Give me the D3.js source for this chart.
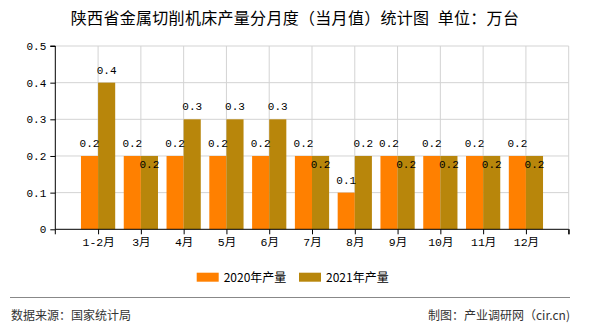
<!DOCTYPE html>
<html><head><meta charset="utf-8">
<script src="https://cdn.jsdelivr.net/npm/d3@7"></script>
<style>
html,body{margin:0;padding:0;background:#fff;}
svg{display:block;}
</style></head>
<body>
<script>
const categories = ["1-2月","3月","4月","5月","6月","7月","8月","9月","10月","11月","12月"];
const values2020 = [0.2,0.2,0.2,0.2,0.2,0.2,0.1,0.2,0.2,0.2,0.2];
const values2021 = [0.4,0.2,0.3,0.3,0.3,0.2,0.2,0.2,0.2,0.2,0.2];
const seriesNames = ["2020年产量","2021年产量"];
const seriesColors = ["#FF8000","#B8860B"];
const yTicks = [0,0.1,0.2,0.3,0.4,0.5];
const titleText = "陕西省金属切削机床产量分月度（当月值）统计图\u2002单位：万台";
const sourceText = "数据来源：国家统计局";
const creditText = "制图：产业调研网（cir.cn)";

const W = 590, H = 330;
const pLeft = 55.3, pRight = 568.7, pTop = 46, pBottom = 229.3;
const mono = "'Liberation Mono','DejaVu Sans Mono',monospace";
const cjk = "'Noto Sans CJK SC','Noto Sans',sans-serif";

const svg = d3.select("body").append("svg").attr("width", W).attr("height", H);

// x: point scale with padding slots at both ends (one empty slot at the right)
const x = d3.scalePoint().domain(["__start"].concat(categories, ["__end"])).range([pLeft, pRight]);
const step = x.step();
const y = d3.scaleLinear().domain([0, 0.5]).range([pBottom, pTop]);

// gridlines
const g = svg.append("g");
g.selectAll("line.hg").data(yTicks.filter(d => d > 0)).join("line")
  .attr("x1", pLeft).attr("x2", pRight)
  .attr("y1", d => y(d)).attr("y2", d => y(d))
  .attr("stroke", "#d3d3d3").attr("stroke-width", 1);
g.selectAll("line.vg").data(categories.concat(["__end"])).join("line")
  .attr("x1", d => x(d)).attr("x2", d => x(d))
  .attr("y1", pTop).attr("y2", pBottom)
  .attr("stroke", "#d3d3d3").attr("stroke-width", 1);

// bars
const barW = step * 0.4;
const data = categories.map((c, i) => ({c, v: [values2020[i], values2021[i]]}));
const bars = svg.append("g");
[0, 1].forEach(s => {
  bars.selectAll("rect.s" + s).data(data).join("rect").attr("class", "s" + s)
    .attr("x", d => x(d.c) + (s === 0 ? -barW : 0))
    .attr("width", barW)
    .attr("y", d => y(d.v[s]))
    .attr("height", d => y(0) - y(d.v[s]))
    .attr("fill", seriesColors[s]);
});

// value labels
const labels = svg.append("g").attr("font-family", mono).attr("font-size", "11px").attr("fill", "#000").attr("text-anchor", "middle");
data.forEach(d => {
  labels.append("text").attr("x", x(d.c) - barW / 2).attr("y", y(d.v[0]) - 9).text(d3.format(".1f")(d.v[0]));
  const inside = d.v[1] === d.v[0];
  labels.append("text").attr("x", x(d.c) + barW / 2)
    .attr("y", inside ? y(d.v[1]) + 12.5 : y(d.v[1]) - 9)
    .text(d3.format(".1f")(d.v[1]));
});

// y axis
const yAxis = d3.axisLeft(y).tickValues(yTicks).tickSize(5).tickPadding(4)
  .tickFormat(d => d === 0 ? "0" : d3.format(".1f")(d));
const ya = svg.append("g").attr("transform", `translate(${pLeft},0)`).call(yAxis);
ya.select(".domain").attr("stroke", "#000").attr("d", `M-5,${pTop}H0V${pBottom}`);
ya.selectAll(".tick line").attr("stroke", "#000");
ya.selectAll("text").attr("font-family", mono).attr("font-size", "11px").attr("fill", "#000");

// x axis
const xAxis = d3.axisBottom(x).tickValues(categories.concat(["__end"])).tickSize(5).tickPadding(4)
  .tickFormat(d => d === "__end" ? "" : d);
const xa = svg.append("g").attr("transform", `translate(0,${pBottom})`).call(xAxis);
xa.select(".domain").attr("stroke", "#000").attr("d", `M${pLeft},0H${pRight}V5`);
xa.selectAll(".tick line").attr("stroke", "#000");
xa.selectAll("text").attr("font-family", mono + "," + cjk).attr("font-size", "11.5px").attr("fill", "#000");
// tick at origin
svg.append("line").attr("x1", pLeft).attr("x2", pLeft).attr("y1", pBottom).attr("y2", pBottom + 5).attr("stroke", "#000");

// title
svg.append("text").attr("x", 295).attr("y", 24).attr("text-anchor", "middle")
  .attr("font-family", cjk).attr("font-size", "16px").attr("letter-spacing", "0.3px").attr("fill", "#000")
  .text(titleText);

// legend
const leg = svg.append("g");
const legX = [196.7, 299];
seriesNames.forEach((n, i) => {
  leg.append("rect").attr("x", legX[i]).attr("y", 272.7).attr("width", 22).attr("height", 9).attr("fill", seriesColors[i]);
  leg.append("text").attr("x", legX[i] + 27).attr("y", 282).attr("font-family", cjk).attr("font-size", "12px").attr("fill", "#000").text(n);
});

// footer
svg.append("line").attr("x1", 10).attr("x2", 570).attr("y1", 297.5).attr("y2", 297.5).attr("stroke", "#888").attr("stroke-width", 1);
svg.append("text").attr("x", 11).attr("y", 320).attr("font-family", cjk).attr("font-size", "12px").attr("fill", "#333").text(sourceText);
svg.append("text").attr("x", 570).attr("y", 320).attr("text-anchor", "end").attr("font-family", cjk).attr("font-size", "12px").attr("fill", "#333").text(creditText);
</script>
</body></html>
